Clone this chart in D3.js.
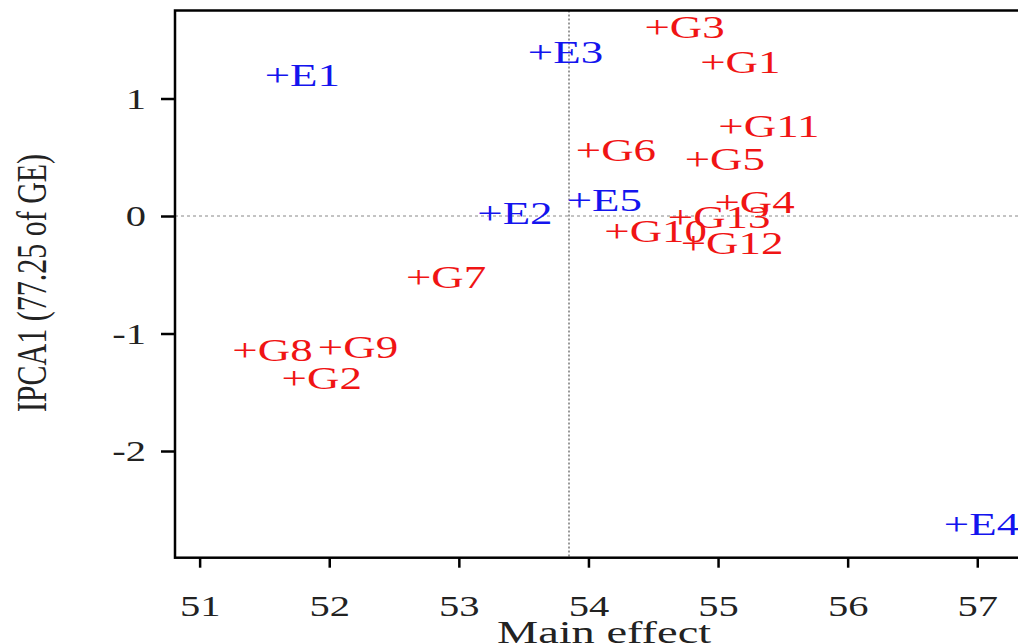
<!DOCTYPE html>
<html>
<head>
<meta charset="utf-8">
<script src="https://cdn.jsdelivr.net/npm/d3@7"></script>
<style>
  body { margin: 0; background: #fff; }
  svg { display: block; }
  text { font-family: "Liberation Serif", "Times New Roman", serif; }
</style>
</head>
<body>
<div class="biplot"></div>
<script>
// environments (blue) and genotypes (red): main effect vs IPCA1 score
var envNames = ["E1", "E2", "E3", "E4", "E5"];
var envMain  = [51.60, 53.24, 53.63, 56.84, 53.93];
var envIpca  = [1.17, 0.00, 1.37, -2.65, 0.11];

var genNames = ["G1", "G2", "G3", "G4", "G5", "G6", "G7", "G8", "G9", "G10", "G11", "G12", "G13"];
var genMain  = [54.96, 51.73, 54.53, 55.07, 54.84, 54.00, 52.69, 51.35, 52.01, 54.22, 55.10, 54.81, 54.71];
var genIpca  = [1.28, -1.41, 1.58, 0.09, 0.46, 0.53, -0.55, -1.17, -1.14, -0.155, 0.74, -0.26, -0.04];

var xTicks = [51, 52, 53, 54, 55, 56, 57];
var yTicks = [-2, -1, 0, 1];
var grandMean = 53.85;

var width = 1018, height = 644;
var plot = {left: 175, top: 10.5, right: 1033, bottom: 557.7};
var stretch = 1.35;   // the original picture is widened horizontally

var svg = d3.select(".biplot").append("svg")
    .attr("width", width)
    .attr("height", height);

var x = d3.scaleLinear().domain([50.81, 57.43]).range([plot.left, plot.right]);
var y = d3.scaleLinear().domain([-2.908, 1.749]).range([plot.bottom, plot.top]);

// reference lines
svg.append("line")
    .attr("x1", x(grandMean)).attr("x2", x(grandMean))
    .attr("y1", plot.top).attr("y2", plot.bottom)
    .style("stroke", "#999")
    .style("stroke-width", "2px")
    .style("stroke-dasharray", "2,2");
svg.append("line")
    .attr("x1", plot.left).attr("x2", plot.right)
    .attr("y1", y(0)).attr("y2", y(0))
    .style("stroke", "#888")
    .style("stroke-width", "1px")
    .style("stroke-dasharray", "3,3");

// frame
svg.append("rect")
    .attr("x", plot.left).attr("y", plot.top)
    .attr("width", plot.right - plot.left)
    .attr("height", plot.bottom - plot.top)
    .attr("fill", "none")
    .style("stroke", "#000")
    .style("stroke-width", "2.5px");

// x axis
var xAxis = svg.append("g")
    .attr("transform", `translate(0, ${plot.bottom})`)
    .call(d3.axisBottom(x).tickValues(xTicks).tickSize(10).tickSizeOuter(0)
        .tickPadding(27).tickFormat(function(d) { return String(d); }));
xAxis.select(".domain").remove();
xAxis.selectAll("line").style("stroke", "#000").style("stroke-width", "2.5px");
xAxis.selectAll("text")
    .attr("fill", "#222")
    .style("font-size", "30px")
    .attr("transform", `scale(${stretch},1)`);

// y axis
var yAxis = svg.append("g")
    .attr("transform", `translate(${plot.left}, 0)`)
    .call(d3.axisLeft(y).tickValues(yTicks).tickSize(14).tickSizeOuter(0)
        .tickFormat(function(d) { return String(d); }));
yAxis.select(".domain").remove();
yAxis.selectAll("line").style("stroke", "#000").style("stroke-width", "2.5px");
yAxis.selectAll("text")
    .attr("fill", "#222")
    .style("font-size", "30px")
    .attr("x", -29 / stretch)
    .attr("transform", `scale(${stretch},1)`);

// axis titles
svg.append("text")
    .attr("transform", `translate(${(plot.left + plot.right) / 2}, 643) scale(1.45,1)`)
    .style("text-anchor", "middle")
    .style("font-size", "32px")
    .attr("fill", "#222")
    .text("Main effect");
svg.append("text")
    .attr("transform", `translate(46, 283) scale(1.4,1) rotate(-90)`)
    .style("text-anchor", "middle")
    .style("font-size", "30px")
    .attr("fill", "#222")
    .text("IPCA1 (77.25 of GE)");

// point labels, the "+" sits on the point
var pts = [];
envNames.forEach(function(n, i) { pts.push({name: n, main: envMain[i], ipca: envIpca[i], col: "#1414ee"}); });
genNames.forEach(function(n, i) { pts.push({name: n, main: genMain[i], ipca: genIpca[i], col: "#f01414"}); });

var fs = 31, ls = 1.45;
svg.append("g").selectAll("text")
    .data(pts)
    .enter().append("text")
    .attr("transform", function(d) { return `translate(${x(d.main)}, ${y(d.ipca)}) scale(${ls},1)`; })
    .attr("x", -0.282 * fs)
    .attr("y", 0.25 * fs)
    .style("font-size", fs + "px")
    .attr("fill", function(d) { return d.col; })
    .text(function(d) { return "+" + d.name; });
</script>
</body>
</html>
